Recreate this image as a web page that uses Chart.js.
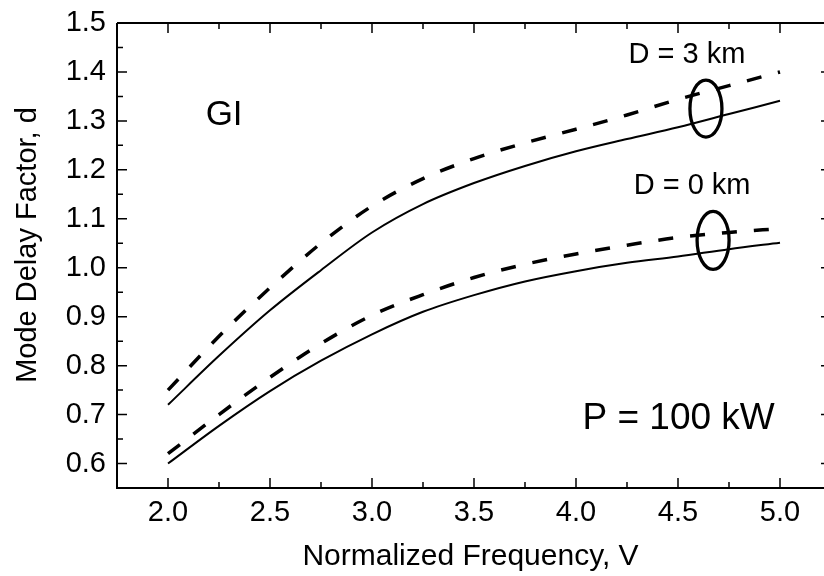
<!DOCTYPE html>
<html>
<head>
<meta charset="utf-8">
<script src="https://cdn.jsdelivr.net/npm/chart.js@4"></script>
<style>
  html, body { margin: 0; padding: 0; background: #fff; }
  #wrap { width: 824px; height: 576px; }
</style>
</head>
<body>
<div id="wrap"><canvas id="delayChart" width="824" height="576"></canvas></div>
<script>
// Normalized frequency V
const freqV = [2.0, 2.25, 2.5, 2.75, 3.0, 3.25, 3.5, 3.75, 4.0, 4.25, 4.5, 4.75, 5.0];

// Mode delay factor d
const d3kmDashed = [0.75, 0.86, 0.959, 1.05, 1.126, 1.182, 1.223, 1.255, 1.283, 1.312, 1.344, 1.372, 1.40];
const d3kmSolid  = [0.72, 0.82, 0.913, 0.995, 1.072, 1.13, 1.173, 1.208, 1.238, 1.263, 1.287, 1.314, 1.341];
const d0kmDashed = [0.62, 0.70, 0.776, 0.845, 0.903, 0.945, 0.98, 1.007, 1.028, 1.046, 1.062, 1.072, 1.08];
const d0kmSolid  = [0.60, 0.677, 0.748, 0.81, 0.864, 0.91, 0.944, 0.972, 0.993, 1.01, 1.023, 1.038, 1.051];

const xTicks = [2.0, 2.5, 3.0, 3.5, 4.0, 4.5, 5.0];
const yTicks = [0.6, 0.7, 0.8, 0.9, 1.0, 1.1, 1.2, 1.3, 1.4, 1.5];

// the plot box runs to V = 5.25, the picture is cut a little before that
const X_MIN = 1.75, X_BOX_MAX = 5.25, X_VISIBLE_MAX = 5.2157;

const FONT = "'Liberation Sans', Arial, sans-serif";

function pts(ys) {
  return freqV.map(function (v, i) { return { x: v, y: ys[i] }; });
}

function curve(ys, dashed) {
  return {
    data: pts(ys),
    borderColor: "#000",
    borderWidth: dashed ? 3.5 : 2,
    borderDash: dashed ? [15, 17] : [],
    pointRadius: 0,
    fill: false,
    cubicInterpolationMode: "monotone",
  };
}

// frame, inward ticks, ellipses and labels
const decorPlugin = {
  id: "decor",
  afterDraw: function (chart) {
    const ctx = chart.ctx;
    const a = chart.chartArea;
    const xs = chart.scales.x;
    const ys = chart.scales.y;
    const boxRight = xs.getPixelForValue(X_BOX_MAX);
    ctx.save();
    ctx.strokeStyle = "#000";
    ctx.lineWidth = 2;
    ctx.beginPath();
    ctx.moveTo(a.left, a.top);
    ctx.lineTo(a.left, a.bottom);
    ctx.lineTo(a.right, a.bottom);
    ctx.moveTo(a.left, a.top);
    ctx.lineTo(a.right, a.top);
    ctx.stroke();

    ctx.lineWidth = 1.5;
    ctx.beginPath();
    for (let v = 2.0; v <= 5.01; v += 0.25) {
      const px = xs.getPixelForValue(v);
      const major = Math.abs(v * 2 - Math.round(v * 2)) < 1e-6;
      const len = major ? 10 : 6;
      ctx.moveTo(px, a.bottom);
      ctx.lineTo(px, a.bottom - len);
      ctx.moveTo(px, a.top);
      ctx.lineTo(px, a.top + len);
    }
    for (let k = 12; k <= 30; k++) {
      const v = k * 0.05;
      const py = ys.getPixelForValue(v);
      const major = k % 2 === 0;
      const len = major ? 10 : 6;
      ctx.moveTo(a.left, py);
      ctx.lineTo(a.left + len, py);
      if (major) {
        ctx.moveTo(boxRight, py);
        ctx.lineTo(boxRight - 10, py);
      }
    }
    ctx.stroke();

    // ellipses marking the curve pairs
    ctx.lineWidth = 3.3;
    [[4.637, 1.325, 16, 28.5], [4.672, 1.056, 16, 29]].forEach(function (e) {
      ctx.beginPath();
      ctx.ellipse(xs.getPixelForValue(e[0]), ys.getPixelForValue(e[1]), e[2], e[3], 0, 0, Math.PI * 2);
      ctx.stroke();
    });

    ctx.fillStyle = "#000";
    ctx.textAlign = "center";
    ctx.textBaseline = "alphabetic";
    [
      ["GI", 2.275, 1.291, 35],
      ["D = 3 km", 4.544, 1.418, 29],
      ["D = 0 km", 4.569, 1.150, 29],
      ["P = 100 kW", 4.503, 0.670, 37],
    ].forEach(function (t) {
      ctx.font = t[3] + "px " + FONT;
      ctx.fillText(t[0], xs.getPixelForValue(t[1]), ys.getPixelForValue(t[2]));
    });

    // y axis title
    ctx.translate(28, 245);
    ctx.rotate(-Math.PI / 2);
    ctx.textBaseline = "middle";
    ctx.font = "29px " + FONT;
    ctx.fillText("Mode Delay Factor, d", 0, 0);
    ctx.restore();
  },
};

document.addEventListener("DOMContentLoaded", function () {
  const ctxEl = document.getElementById("delayChart");
  new Chart(ctxEl, {
    type: "line",
    data: {
      datasets: [
        curve(d3kmDashed, true),
        curve(d3kmSolid, false),
        curve(d0kmDashed, true),
        curve(d0kmSolid, false),
      ],
    },
    options: {
      responsive: false,
      animation: false,
      layout: { padding: { top: 23, right: 0, left: 0, bottom: 0 } },
      plugins: { legend: { display: false }, tooltip: { enabled: false } },
      scales: {
        x: {
          type: "linear",
          min: X_MIN,
          max: X_VISIBLE_MAX,
          afterFit: function (s) {
            s.height = 88;
            s.paddingLeft = 0;
            s.paddingRight = 0;
          },
          afterBuildTicks: function (s) { s.ticks = xTicks.map(function (v) { return { value: v }; }); },
          grid: { display: false, drawTicks: false },
          border: { display: false },
          ticks: {
            color: "#000",
            padding: 8,
            font: { family: FONT, size: 29 },
            maxRotation: 0,
            callback: function (v) { return Number(v).toFixed(1); },
          },
          title: {
            display: true,
            text: "Normalized Frequency, V",
            color: "#000",
            font: { family: FONT, size: 30 },
            padding: { top: 0, bottom: 1 },
          },
        },
        y: {
          min: 0.55,
          max: 1.5,
          afterFit: function (s) {
            s.width = 117;
            s.paddingTop = 0;
            s.paddingBottom = 0;
          },
          afterBuildTicks: function (s) { s.ticks = yTicks.map(function (v) { return { value: v }; }); },
          grid: { display: false, drawTicks: false },
          border: { display: false },
          ticks: {
            color: "#000",
            padding: 11,
            font: { family: FONT, size: 29 },
            callback: function (v) { return Number(v).toFixed(1); },
          },
        },
      },
    },
    plugins: [decorPlugin],
  });
});
</script>
</body>
</html>
